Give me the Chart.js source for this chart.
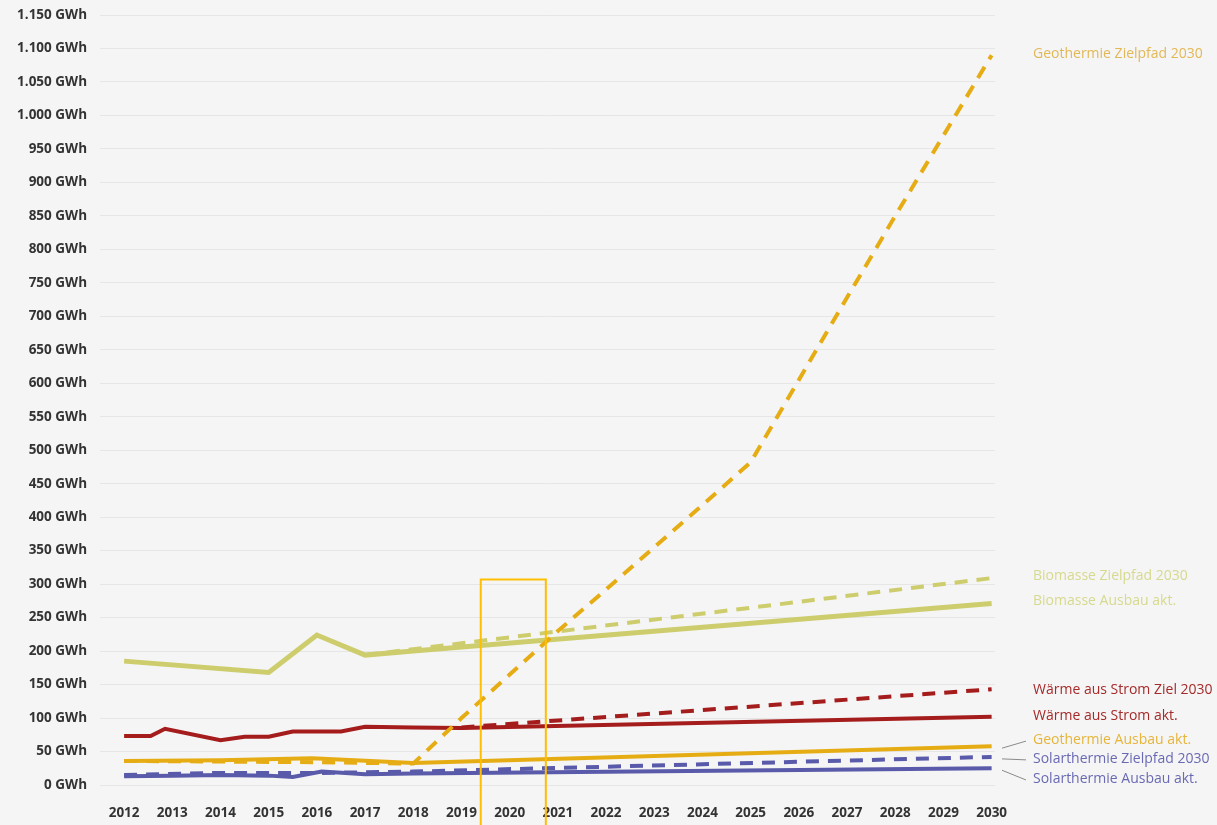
<!DOCTYPE html>
<html>
<head>
<meta charset="utf-8">
<script src="https://cdn.jsdelivr.net/npm/chart.js@4.4.1/dist/chart.umd.min.js"></script>
<style>
  html, body { margin: 0; padding: 0; background: #f5f5f5; }
  #wrap { width: 1217px; height: 825px; }
</style>
</head>
<body>
<div id="wrap"><canvas id="chart"></canvas></div>
<script>
// Jahre auf der x-Achse
const years = [2012, 2013, 2014, 2015, 2016, 2017, 2018, 2019, 2020, 2021, 2022, 2023, 2024, 2025, 2026, 2027, 2028, 2029, 2030];
const yTicks = [0, 50, 100, 150, 200, 250, 300, 350, 400, 450, 500, 550, 600, 650, 700, 750, 800, 850, 900, 950, 1000, 1050, 1100, 1150];

// Werte (GWh)
const geoZielX = [2012, 2014, 2016, 2017, 2018, 2019, 2020, 2021, 2022, 2023, 2024, 2025, 2026, 2027, 2028, 2029, 2030];
const geoZielY = [36, 35, 34, 33, 32, 100, 165, 230, 292, 355, 418, 482, 605, 728, 850, 970, 1090];

const bioZielX = [2017, 2030];
const bioZielY = [194, 309];

const bioAktX = [2012, 2015, 2016, 2017, 2018, 2030];
const bioAktY = [185, 168, 224, 194, 200, 271];

const stromZielX = [2019, 2030];
const stromZielY = [86, 143];

const stromAktX = [2012, 2012.55, 2012.85, 2014, 2014.5, 2015, 2015.5, 2016.5, 2017, 2018, 2019, 2030];
const stromAktY = [73, 73, 84, 67, 72, 72, 80, 80, 87, 86, 85, 102];

const geoAktX = [2012, 2014, 2015.9, 2018, 2030];
const geoAktY = [36, 37, 40, 33, 58];

const solarZielX = [2012, 2014, 2016, 2018, 2030];
const solarZielY = [15, 18, 18, 20, 42];

const solarAktX = [2012, 2013, 2014, 2015, 2015.5, 2016.1, 2017, 2018, 2030];
const solarAktY = [13, 14, 15, 14, 12, 20, 16, 17, 25];

// Beschriftungen rechts
const seriesLabels = [
  { text: 'Geothermie Zielpfad 2030', color: '#e2b856', at: 1092 },
  { text: 'Biomasse Zielpfad 2030', color: '#d7d98e', at: 312 },
  { text: 'Biomasse Ausbau akt.', color: '#d7d98e', at: 275 },
  { text: 'Wärme aus Strom Ziel 2030', color: '#a52a2a', at: 142 },
  { text: 'Wärme aus Strom akt.', color: '#a52a2a', at: 103 },
  { text: 'Geothermie Ausbau akt.', color: '#e6b53a', at: 67, lead: 58 },
  { text: 'Solarthermie Zielpfad 2030', color: '#6a6ab4', at: 39, lead: 42 },
  { text: 'Solarthermie Ausbau akt.', color: '#6a6ab4', at: 9, lead: 25 }
];

// Markierung um 2020
const highlight = { from: 2019.4, to: 2020.75, top: 307 };

const pts = (xs, ys) => xs.map((x, i) => ({ x: x, y: ys[i] }));
const fmt = v => String(v).replace(/\B(?=(\d{3})+(?!\d))/g, '.');

const OLIVE = '#cdcd6e';
const RED = '#a51c1c';
const ORANGE = '#e6ac14';
const BLUE = '#5a5aaa';
const DASH = [13, 9];

const labelPlugin = {
  id: 'labels',
  afterDraw(chart) {
    const ctx = chart.ctx;
    const y = chart.scales.y;
    const x = chart.scales.x;
    ctx.save();
    ctx.font = '14px "Open Sans"';
    ctx.textBaseline = 'middle';
    ctx.textAlign = 'left';
    seriesLabels.forEach(l => {
      const py = y.getPixelForValue(l.at);
      ctx.fillStyle = l.color;
      ctx.fillText(l.text, 1033, py);
      if (l.lead !== undefined) {
        ctx.strokeStyle = '#8a8a8a';
        ctx.lineWidth = 1;
        ctx.beginPath();
        ctx.moveTo(x.right + 7, y.getPixelForValue(l.lead) + 2);
        ctx.lineTo(1026, py + 1);
        ctx.stroke();
      }
    });
    // Rahmen
    ctx.strokeStyle = '#ffbf00';
    ctx.lineWidth = 2;
    const x1 = x.getPixelForValue(highlight.from);
    const x2 = x.getPixelForValue(highlight.to);
    const t = y.getPixelForValue(highlight.top);
    ctx.beginPath();
    ctx.moveTo(x1, chart.height);
    ctx.lineTo(x1, t);
    ctx.lineTo(x2, t);
    ctx.lineTo(x2, chart.height);
    ctx.stroke();
    ctx.restore();
  }
};

const line = (label, data, color, dashed, order, width) => ({
  label: label,
  data: data,
  borderColor: color,
  borderWidth: width || 4,
  borderDash: dashed ? DASH : [],
  pointRadius: 0,
  tension: 0,
  fill: false,
  order: order
});

new Chart(document.getElementById('chart'), {
  type: 'line',
  data: {
    datasets: [
      line('Geothermie Zielpfad 2030', pts(geoZielX, geoZielY), ORANGE, true, 0),
      line('Biomasse Zielpfad 2030', pts(bioZielX, bioZielY), OLIVE, true, 2),
      line('Biomasse Ausbau akt.', pts(bioAktX, bioAktY), OLIVE, false, 1, 5),
      line('Wärme aus Strom Ziel 2030', pts(stromZielX, stromZielY), RED, true, 4),
      line('Wärme aus Strom akt.', pts(stromAktX, stromAktY), RED, false, 3),
      line('Geothermie Ausbau akt.', pts(geoAktX, geoAktY), ORANGE, false, 5),
      line('Solarthermie Zielpfad 2030', pts(solarZielX, solarZielY), BLUE, true, 7),
      line('Solarthermie Ausbau akt.', pts(solarAktX, solarAktY), BLUE, false, 6)
    ]
  },
  options: {
    responsive: true,
    maintainAspectRatio: false,
    animation: false,
    layout: { padding: { top: 15, right: 222, left: 0, bottom: 0 } },
    plugins: { legend: { display: false }, tooltip: { enabled: false } },
    scales: {
      x: {
        type: 'linear',
        min: 2011.5,
        max: 2030.07,
        afterBuildTicks: s => { s.ticks = years.map(v => ({ value: v })); },
        afterFit: s => { s.height = 40; },
        grid: { display: false },
        border: { display: false },
        ticks: {
          callback: v => String(v),
          autoSkip: false,
          maxRotation: 0,
          padding: 12,
          color: '#333',
          font: { family: 'Open Sans', size: 13.5, weight: 'bold' }
        }
      },
      y: {
        min: 0,
        max: 1150,
        afterBuildTicks: s => { s.ticks = yTicks.map(v => ({ value: v })); },
        afterFit: s => { s.width = 100; s.paddingTop = 0; s.paddingBottom = 0; },
        grid: { color: '#e6e6e6', lineWidth: 1, drawTicks: false },
        border: { display: false },
        ticks: {
          callback: v => fmt(v) + ' GWh',
          autoSkip: false,
          padding: 13,
          color: '#333',
          font: { family: 'Open Sans', size: 13.5, weight: 'bold' }
        }
      }
    }
  },
  plugins: [labelPlugin]
});
</script>
</body>
</html>
